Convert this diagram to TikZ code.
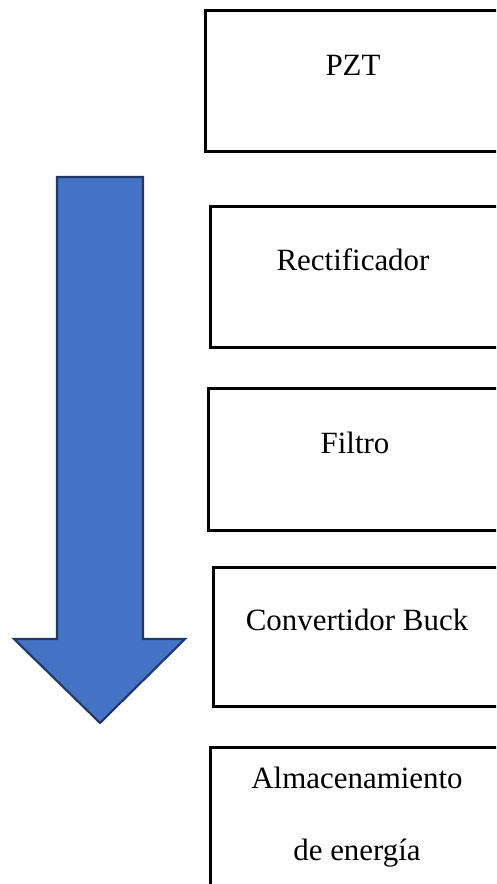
\documentclass[tikz,border=0pt]{standalone}
\usepackage{fontspec}
\setmainfont{Liberation Serif}
\usetikzlibrary{positioning,calc}
\definecolor{flowfill}{RGB}{68,114,196}
\definecolor{flowedge}{RGB}{31,56,100}
\tikzset{
  stage/.style={draw=black,line width=1.7pt,rectangle,anchor=north west,
    minimum width=7cm,inner sep=0pt},
  tag/.style={font=\fontsize{17.6}{21}\selectfont,text=black,inner sep=0pt},
  bigflow/.style={fill=flowfill,draw=flowedge,line width=1.2pt,line join=miter},
}
\begin{document}
\begin{tikzpicture}
  \useasboundingbox (0,0) rectangle (9.92,17.68);
  \clip (0,0) rectangle (9.92,17.68);
  % energy flow arrow
  \draw[bigflow] (1.14,14.14) -- (2.86,14.14) -- (2.86,4.90) -- (3.70,4.90)
    -- (2.00,3.22) -- (0.28,4.90) -- (1.14,4.90) -- cycle;
  % conversion stages
  \node[stage,minimum height=2.82cm] (pzt) at (4.08,17.50) {};
  \node[stage,minimum height=2.82cm] (rect) at (4.18,13.58) {};
  \node[stage,minimum height=2.84cm] (filt) at (4.14,9.94) {};
  \node[stage,minimum height=2.78cm] (buck) at (4.24,6.36) {};
  \node[stage,minimum height=3.40cm] (store) at (4.18,2.76) {};
  \node[tag] (pztT) at (7.06,16.38) {PZT};
  \node[tag] (rectT) at (7.06,12.48) {Rectificador};
  \node[tag] (filtT) at (7.10,8.82) {Filtro};
  \node[tag] (buckT) at (7.14,5.28) {Convertidor Buck};
  \node[tag] (storeT) at (7.14,2.12) {Almacenamiento};
  \node[tag] (storeT2) at (7.14,0.62) {de energía};
\end{tikzpicture}
\end{document}
